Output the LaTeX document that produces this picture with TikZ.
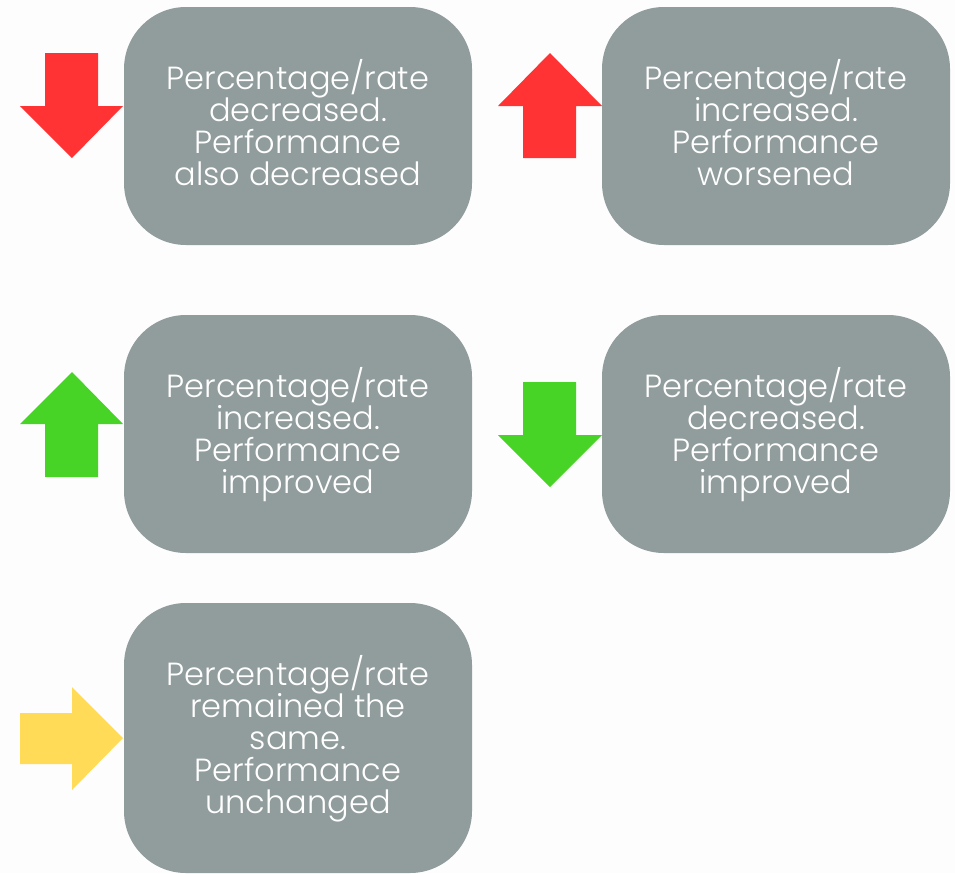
\documentclass[tikz,border=0pt]{standalone}
\usepackage{fontspec}
\setmainfont{Poppins Light}
\definecolor{boxgray}{HTML}{919C9D}
\definecolor{arrred}{HTML}{FF3333}
\definecolor{arrgreen}{HTML}{47D427}
\definecolor{arryellow}{HTML}{FFDB58}
\definecolor{bgcol}{HTML}{FDFDFD}
\newcommand\myboxfont{\fontsize{32}{32}\selectfont\setlength{\lineskiplimit}{-20pt}}
\begin{document}
\begin{tikzpicture}[x=1pt,y=-1pt,
  infobox/.style={fill=boxgray, draw=none, rounded corners=62pt, minimum width=348pt, minimum height=238pt,
    text=white, align=center, inner sep=0pt, text depth=7pt, font=\myboxfont},
]
\fill[bgcol] (0,0) rectangle (955,873);
\useasboundingbox (0,0) rectangle (955,873);
\begin{scope}
\clip (0,0) rectangle (955,873);
\node[infobox] (b1) at (298,126) {Percentage/rate\\decreased.\\Performance\\also decreased};
\node[infobox] (b2) at (776,126) {Percentage/rate\\increased.\\Performance\\worsened};
\node[infobox] (b3) at (298,434) {Percentage/rate\\increased.\\Performance\\improved};
\node[infobox] (b4) at (776,434) {Percentage/rate\\decreased.\\Performance\\improved};
\node[infobox, minimum height=270pt] (b5) at (298,738) {Percentage/rate\\remained the\\same.\\Performance\\unchanged};
\end{scope}
% arrows
\fill[arrred] (45,53) -- (98,53) -- (98,106) -- (123,106) -- (72,158) -- (20,106) -- (45,106) -- cycle;
\fill[arrred] (523,158) -- (576,158) -- (576,106) -- (602,106) -- (550,53) -- (498,106) -- (523,106) -- cycle;
\fill[arrgreen] (45,477) -- (98,477) -- (98,424) -- (123,424) -- (72,372) -- (20,424) -- (45,424) -- cycle;
\fill[arrgreen] (523,382) -- (576,382) -- (576,435) -- (602,435) -- (550,487) -- (498,435) -- (523,435) -- cycle;
\fill[arryellow] (20,713) -- (72,713) -- (72,687) -- (123,738) -- (72,790) -- (72,764) -- (20,764) -- cycle;
\end{tikzpicture}
\end{document}
